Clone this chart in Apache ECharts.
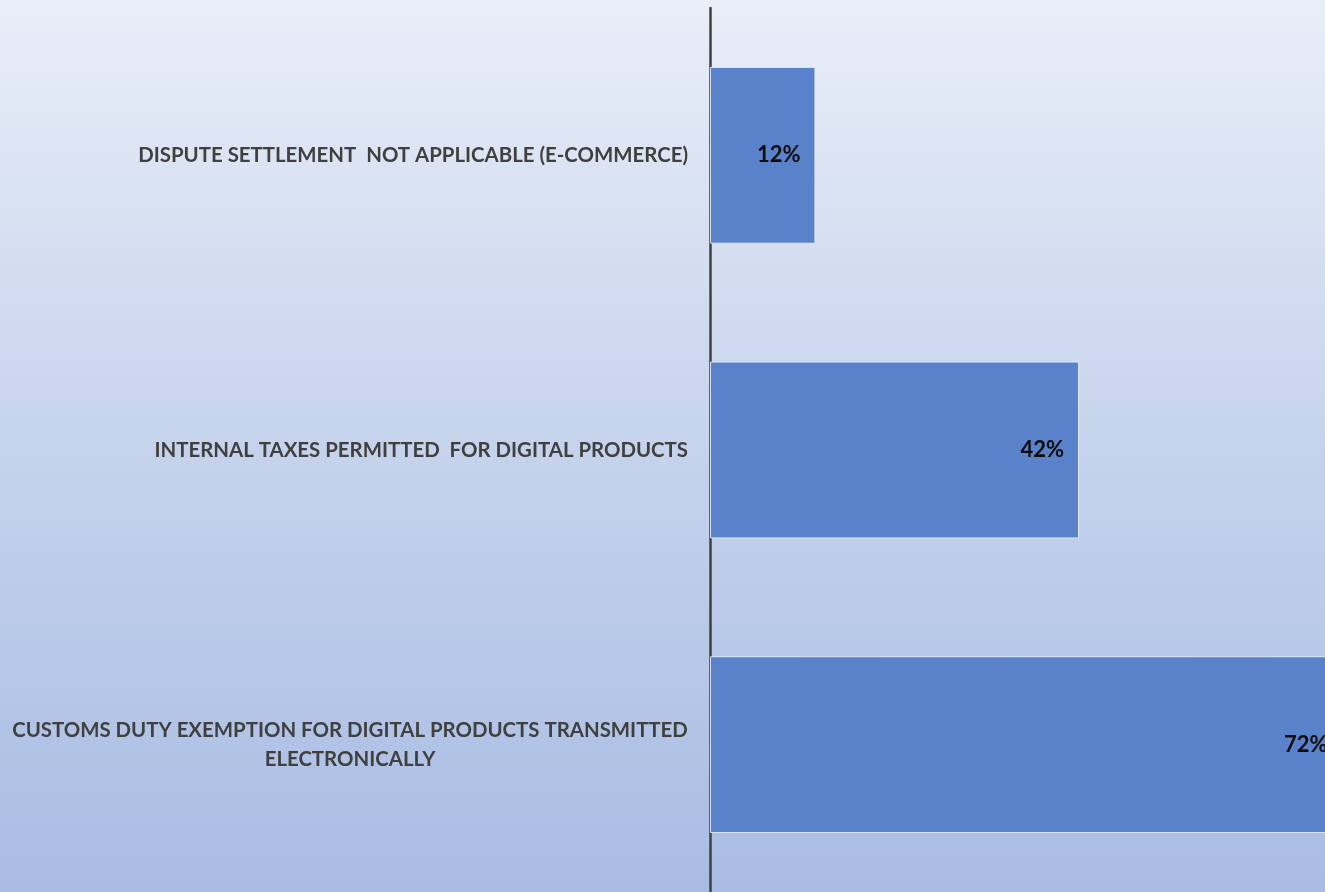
<!DOCTYPE html>
<html>
<head>
<meta charset="utf-8">
<script src="https://cdn.jsdelivr.net/npm/echarts@6/dist/echarts.min.js"></script>
<style>
  html, body { margin: 0; padding: 0; }
  #chart { width: 1325px; height: 892px; }
</style>
</head>
<body>
<div id="chart"></div>
<script>
// Provisions found in trade agreements (share of agreements, %)
const categories = [
  'CUSTOMS DUTY EXEMPTION FOR DIGITAL PRODUCTS TRANSMITTED\nELECTRONICALLY',
  'INTERNAL TAXES PERMITTED  FOR DIGITAL PRODUCTS',
  'DISPUTE SETTLEMENT  NOT APPLICABLE (E-COMMERCE)'
];
const shares = [72, 42, 12];

const LABEL_SIZE = 20.4;
const LABEL_FONT = 'bold ' + LABEL_SIZE + 'px Lato';

// width of the widest line of a wrapped label, so its lines can be centred
function lineWidth(text) {
  const ctx = document.createElement('canvas').getContext('2d');
  ctx.font = LABEL_FONT;
  return Math.max.apply(null, text.split('\n').map(t => ctx.measureText(t).width));
}

const richStyles = { plain: {} };
categories.forEach((c, i) => {
  if (c.indexOf('\n') >= 0) {
    richStyles['w' + i] = { width: Math.ceil(lineWidth(c)), align: 'center', lineHeight: 29 };
  }
});

const chart = echarts.init(document.getElementById('chart'));
chart.setOption({
  backgroundColor: {
    type: 'linear', x: 0, y: 0, x2: 0, y2: 1,
    colorStops: [
      { offset: 0, color: '#e9eef8' },
      { offset: 0.5, color: '#c5d3ec' },
      { offset: 1, color: '#a8bce3' }
    ]
  },
  grid: { left: 710, top: 8, right: 0, bottom: -3, containLabel: false },
  xAxis: {
    type: 'value', min: 0, max: 70,
    show: false
  },
  yAxis: {
    type: 'category',
    data: categories,
    axisLine: { show: true, lineStyle: { color: '#404040', width: 2.5 } },
    axisTick: { show: false },
    axisLabel: {
      margin: 22,
      fontFamily: 'Lato',
      fontWeight: 'bold',
      fontSize: LABEL_SIZE,
      color: '#404040',
      lineHeight: 29,
      formatter: function (value, idx) {
        if (value.indexOf('\n') >= 0) {
          return value.split('\n').map(l => '{w' + idx + '|' + l + '}').join('\n');
        }
        return value;
      },
      rich: richStyles
    }
  },
  series: [{
    type: 'bar',
    data: shares,
    clip: false,
    barCategoryGap: '40%',
    itemStyle: {
      color: '#5a82cb',
      borderColor: 'rgba(235,242,252,0.85)',
      borderWidth: 1
    },
    label: {
      show: true,
      position: 'insideRight',
      distance: 15,
      formatter: '{c}%',
      fontFamily: 'Lato',
      fontWeight: 'bold',
      fontSize: 22,
      color: '#0d0d0d'
    }
  }]
});
</script>
</body>
</html>
